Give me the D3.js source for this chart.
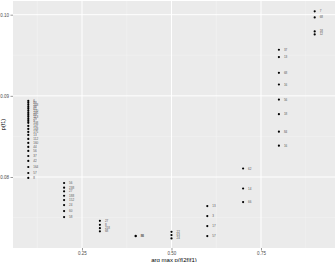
<!DOCTYPE html>
<html>
<head>
<meta charset="utf-8">
<script src="https://cdn.jsdelivr.net/npm/d3@7"></script>
<style>
  body { margin: 0; background: #fff; }
  text { font-family: "Liberation Sans", Arial, sans-serif; }
</style>
</head>
<body>
<div id="chart"></div>
<script>
// Data (point labels are too small to read exactly)
const xValues = [
  0.1, 0.1, 0.1, 0.1, 0.1, 0.1, 0.1, 0.1, 0.1, 0.1, 0.1, 0.1, 0.1,
  0.1, 0.1, 0.1, 0.1, 0.1, 0.1, 0.1, 0.1, 0.1, 0.1, 0.1, 0.1,
  0.2, 0.2, 0.2, 0.2, 0.2, 0.2, 0.2, 0.2,
  0.3, 0.3, 0.3, 0.3,
  0.4, 0.4,
  0.5, 0.5, 0.5,
  0.6, 0.6, 0.6, 0.6,
  0.7, 0.7, 0.7,
  0.8, 0.8, 0.8, 0.8, 0.8, 0.8, 0.8, 0.8,
  0.9, 0.9, 0.9, 0.9
];
const yValues = [
  0.08938, 0.08914, 0.08889, 0.08864, 0.08840, 0.08815, 0.08790, 0.08765, 0.08741,
  0.08716, 0.08691, 0.08667, 0.08630, 0.08593, 0.08556, 0.08519, 0.08469, 0.08420,
  0.08370, 0.08321, 0.08259, 0.08198, 0.08123, 0.08049, 0.07988,
  0.07926, 0.07868, 0.07823, 0.07769, 0.07716, 0.07654, 0.07580, 0.07506,
  0.07460, 0.07411, 0.07370, 0.07330,
  0.07276, 0.07270,
  0.07325, 0.07284, 0.07243,
  0.07642, 0.07519, 0.07395, 0.07272,
  0.08105, 0.07858, 0.07691,
  0.09568, 0.09478, 0.09284, 0.09140, 0.08954, 0.08774, 0.08559, 0.08386,
  0.10041, 0.09967, 0.09794, 0.09757
];
const pointLabels = [
  "6", "88", "103", "98", "61", "170", "195", "89", "113", "79", "9", "108", "147",
  "143", "175", "13", "112", "160", "44", "56", "37", "42", "164", "57", "8",
  "56", "238", "27", "188", "152", "24", "60", "58",
  "27", "8", "218", "68",
  "88", "86",
  "22", "63", "24",
  "13", "3", "17", "57",
  "62", "14", "66",
  "37", "13", "68", "16", "56", "18", "84", "16",
  "7", "68", "18", "12"
];
const xTicks = [0.25, 0.5, 0.75];
const xMinor = [0.125, 0.375, 0.625, 0.875];
const yTicks = [0.08, 0.09, 0.10];
const yMinor = [0.075, 0.085, 0.095];

const points = xValues.map((x, i) => ({ x: x, y: yValues[i], label: pointLabels[i] }));

const width = 336, height = 262;
const panel = { left: 13, right: 335, top: 1, bottom: 248 };

const svg = d3.select("#chart").append("svg")
  .attr("width", width)
  .attr("height", height);

const x = d3.scaleLinear().domain([0.0573, 0.9567]).range([panel.left, panel.right]);
const y = d3.scaleLinear().domain([0.071251, 0.101688]).range([panel.bottom, panel.top]);

// panel background
svg.append("rect")
  .attr("x", panel.left).attr("y", panel.top)
  .attr("width", panel.right - panel.left)
  .attr("height", panel.bottom - panel.top)
  .attr("fill", "#ebebeb");

// grid
svg.selectAll(".gx-minor").data(xMinor).enter().append("line")
  .attr("x1", d => x(d)).attr("x2", d => x(d))
  .attr("y1", panel.top).attr("y2", panel.bottom)
  .attr("stroke", "#f5f5f5").attr("stroke-width", 0.5);
svg.selectAll(".gy-minor").data(yMinor).enter().append("line")
  .attr("y1", d => y(d)).attr("y2", d => y(d))
  .attr("x1", panel.left).attr("x2", panel.right)
  .attr("stroke", "#f5f5f5").attr("stroke-width", 0.5);
svg.selectAll(".gx").data(xTicks).enter().append("line")
  .attr("x1", d => x(d)).attr("x2", d => x(d))
  .attr("y1", panel.top).attr("y2", panel.bottom)
  .attr("stroke", "#fff").attr("stroke-width", 1);
svg.selectAll(".gy").data(yTicks).enter().append("line")
  .attr("y1", d => y(d)).attr("y2", d => y(d))
  .attr("x1", panel.left).attr("x2", panel.right)
  .attr("stroke", "#fff").attr("stroke-width", 1);

// axes
const xAxis = svg.append("g")
  .attr("transform", `translate(0, ${panel.bottom})`)
  .call(d3.axisBottom(x).tickValues(xTicks).tickSize(2.5).tickPadding(1).tickFormat(d3.format(".2f")));
const yAxis = svg.append("g")
  .attr("transform", `translate(${panel.left}, 0)`)
  .call(d3.axisLeft(y).tickValues(yTicks).tickSize(2.5).tickPadding(1.5).tickFormat(d3.format(".2f")));

[xAxis, yAxis].forEach(g => {
  g.select(".domain").remove();
  g.selectAll(".tick line").attr("stroke", "#333").attr("stroke-width", 0.5);
  g.selectAll(".tick text")
    .attr("fill", "#4d4d4d")
    .style("font-size", "4.5px")
    .style("font-family", "'Liberation Sans', Arial, sans-serif");
});

// axis titles
svg.append("text")
  .attr("x", (panel.left + panel.right) / 2)
  .attr("y", 261.5)
  .attr("text-anchor", "middle")
  .style("font-size", "6px")
  .attr("fill", "#000")
  .text("arg max p(f|2f|f1)");

svg.append("text")
  .attr("transform", `translate(4.5, ${(panel.top + panel.bottom) / 2}) rotate(-90)`)
  .attr("text-anchor", "middle")
  .style("font-size", "5.5px")
  .attr("fill", "#000")
  .text("p(f1)");

// points
svg.selectAll(".dot").data(points).enter().append("circle")
  .attr("class", "dot")
  .attr("cx", d => x(d.x))
  .attr("cy", d => y(d.y))
  .attr("r", 1.1)
  .attr("fill", "#000");

// labels
svg.selectAll(".lbl").data(points).enter().append("text")
  .attr("class", "lbl")
  .attr("x", d => x(d.x) + 5)
  .attr("y", d => y(d.y))
  .attr("dy", "0.35em")
  .style("font-size", "3px")
  .attr("fill", "#555")
  .text(d => d.label);
</script>
</body>
</html>
